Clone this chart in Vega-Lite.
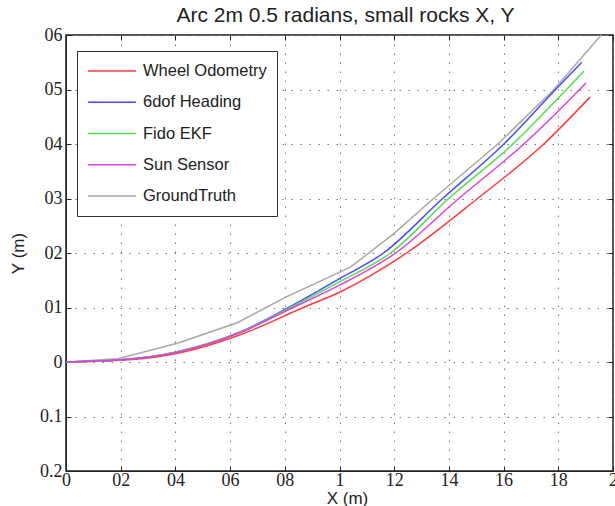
{
  "$schema": "https://vega.github.io/schema/vega-lite/v6.json",
  "width": 547,
  "height": 436,
  "autosize": {"type": "none"},
  "padding": {"left": 66, "top": 35, "right": 2, "bottom": 35},
  "background": "white",
  "title": {"text": "Arc 2m 0.5 radians, small rocks X, Y", "font": "Liberation Sans", "fontSize": 21, "fontWeight": "normal", "color": "#222", "offset": 0, "anchor": "middle", "dx": 6},
  "config": {
    "view": {"stroke": "#222", "strokeWidth": 1.5},
    "axis": {"labelFont": "Liberation Sans Narrow", "labelFontSize": 18, "labelColor": "#222", "titleFont": "Liberation Sans", "titleFontSize": 17, "titleFontWeight": "normal", "titleColor": "#222", "tickColor": "#222", "domainColor": "#222", "gridColor": "#777", "gridDash": [1.5, 7.5], "gridWidth": 1, "gridOpacity": 1}
  },
  "data": {"values": [
    {"s": "Wheel Odometry", "i": 0, "x": 0, "y": 0},
    {"s": "Wheel Odometry", "i": 1, "x": 0.2, "y": 0.003},
    {"s": "Wheel Odometry", "i": 2, "x": 0.4, "y": 0.015},
    {"s": "Wheel Odometry", "i": 3, "x": 0.637, "y": 0.05},
    {"s": "Wheel Odometry", "i": 4, "x": 0.868, "y": 0.1},
    {"s": "Wheel Odometry", "i": 5, "x": 1.0, "y": 0.128},
    {"s": "Wheel Odometry", "i": 6, "x": 1.245, "y": 0.2},
    {"s": "Wheel Odometry", "i": 7, "x": 1.505, "y": 0.3},
    {"s": "Wheel Odometry", "i": 8, "x": 1.747, "y": 0.4},
    {"s": "Wheel Odometry", "i": 9, "x": 1.916, "y": 0.486},
    {"s": "6dof Heading", "i": 0, "x": 0, "y": 0},
    {"s": "6dof Heading", "i": 1, "x": 0.2, "y": 0.004},
    {"s": "6dof Heading", "i": 2, "x": 0.4, "y": 0.018},
    {"s": "6dof Heading", "i": 3, "x": 0.637, "y": 0.055},
    {"s": "6dof Heading", "i": 4, "x": 0.813, "y": 0.1},
    {"s": "6dof Heading", "i": 5, "x": 1.0, "y": 0.153},
    {"s": "6dof Heading", "i": 6, "x": 1.161, "y": 0.2},
    {"s": "6dof Heading", "i": 7, "x": 1.377, "y": 0.3},
    {"s": "6dof Heading", "i": 8, "x": 1.601, "y": 0.4},
    {"s": "6dof Heading", "i": 9, "x": 1.79, "y": 0.5},
    {"s": "6dof Heading", "i": 10, "x": 1.886, "y": 0.55},
    {"s": "Fido EKF", "i": 0, "x": 0, "y": 0},
    {"s": "Fido EKF", "i": 1, "x": 0.2, "y": 0.004},
    {"s": "Fido EKF", "i": 2, "x": 0.4, "y": 0.018},
    {"s": "Fido EKF", "i": 3, "x": 0.637, "y": 0.055},
    {"s": "Fido EKF", "i": 4, "x": 0.82, "y": 0.1},
    {"s": "Fido EKF", "i": 5, "x": 1.0, "y": 0.147},
    {"s": "Fido EKF", "i": 6, "x": 1.187, "y": 0.2},
    {"s": "Fido EKF", "i": 7, "x": 1.399, "y": 0.3},
    {"s": "Fido EKF", "i": 8, "x": 1.634, "y": 0.4},
    {"s": "Fido EKF", "i": 9, "x": 1.83, "y": 0.5},
    {"s": "Fido EKF", "i": 10, "x": 1.894, "y": 0.534},
    {"s": "Sun Sensor", "i": 0, "x": 0, "y": 0},
    {"s": "Sun Sensor", "i": 1, "x": 0.2, "y": 0.004},
    {"s": "Sun Sensor", "i": 2, "x": 0.4, "y": 0.017},
    {"s": "Sun Sensor", "i": 3, "x": 0.637, "y": 0.054},
    {"s": "Sun Sensor", "i": 4, "x": 0.83, "y": 0.1},
    {"s": "Sun Sensor", "i": 5, "x": 1.0, "y": 0.141},
    {"s": "Sun Sensor", "i": 6, "x": 1.205, "y": 0.2},
    {"s": "Sun Sensor", "i": 7, "x": 1.436, "y": 0.3},
    {"s": "Sun Sensor", "i": 8, "x": 1.674, "y": 0.4},
    {"s": "Sun Sensor", "i": 9, "x": 1.878, "y": 0.5},
    {"s": "Sun Sensor", "i": 10, "x": 1.901, "y": 0.512},
    {"s": "GroundTruth", "i": 0, "x": 0, "y": 0},
    {"s": "GroundTruth", "i": 1, "x": 0.19, "y": 0.006},
    {"s": "GroundTruth", "i": 2, "x": 0.41, "y": 0.035},
    {"s": "GroundTruth", "i": 3, "x": 0.626, "y": 0.072},
    {"s": "GroundTruth", "i": 4, "x": 0.8, "y": 0.118},
    {"s": "GroundTruth", "i": 5, "x": 1.04, "y": 0.174},
    {"s": "GroundTruth", "i": 6, "x": 1.2, "y": 0.236},
    {"s": "GroundTruth", "i": 7, "x": 1.344, "y": 0.3},
    {"s": "GroundTruth", "i": 8, "x": 1.579, "y": 0.4},
    {"s": "GroundTruth", "i": 9, "x": 1.784, "y": 0.5},
    {"s": "GroundTruth", "i": 10, "x": 1.957, "y": 0.6}
  ]},
  "layer": [
    {
      "transform": [{"filter": "datum.s === 'GroundTruth'"}],
      "mark": {"type": "line", "strokeWidth": 1.5, "clip": true},
      "encoding": {
        "x": {"field": "x", "type": "quantitative", "scale": {"domain": [0, 2], "nice": false, "zero": false},
          "axis": {"orient": "bottom", "values": [0, 0.2, 0.4, 0.6, 0.8, 1, 1.2, 1.4, 1.6, 1.8, 2], "labelExpr": "datum.value == 0 ? '0' : (datum.value == 1 ? '1' : (datum.value == 2 ? '2' : replace(format(datum.value, '.1f'), '.', '')))", "labelFlush": false, "tickSize": -5, "labelPadding": 5, "grid": true, "title": "X (m)", "titleX": 281, "titleY": 27, "titleBaseline": "middle"}},
        "y": {"field": "y", "type": "quantitative", "scale": {"domain": [-0.2, 0.6], "nice": false, "zero": false},
          "axis": {"orient": "left", "values": [-0.2, -0.1, 0, 0.1, 0.2, 0.3, 0.4, 0.5, 0.6], "labelExpr": "abs(datum.value) < 0.0001 ? '0' : (datum.value < 0 ? format(-datum.value, '.1f') : replace(format(datum.value, '.1f'), '.', ''))", "labelFlush": false, "tickSize": -5, "labelPadding": 9, "grid": true, "title": "Y (m)", "titleX": -48, "titleBaseline": "middle"}},
        "color": {"field": "s", "type": "nominal",
          "scale": {"domain": ["Wheel Odometry", "6dof Heading", "Fido EKF", "Sun Sensor", "GroundTruth"], "range": ["#ff3b3b", "#4b4bff", "#4fe04f", "#e040e0", "#a8a8a8"]},
          "legend": {"orient": "none", "legendX": 11, "legendY": 16, "title": null, "symbolType": "stroke", "symbolSize": 2304, "symbolStrokeWidth": 1.5, "labelFont": "Liberation Sans", "labelFontSize": 16.5, "labelColor": "#222", "labelOffset": 6, "clipHeight": 20, "rowPadding": 11.25, "padding": 10, "strokeColor": "#333", "fillColor": "white", "labelLimit": 300}},
        "order": {"field": "i", "type": "quantitative"}
      }
    },
    {
      "transform": [{"filter": "datum.s !== 'GroundTruth'"}],
      "mark": {"type": "line", "strokeWidth": 1.5, "clip": true, "interpolate": "monotone"},
      "encoding": {
        "x": {"field": "x", "type": "quantitative", "axis": null},
        "y": {"field": "y", "type": "quantitative", "axis": null},
        "color": {"field": "s", "type": "nominal"},
        "order": {"field": "i", "type": "quantitative"}
      }
    },
    {
      "mark": {"type": "point", "opacity": 0},
      "encoding": {
        "x": {"field": "x", "type": "quantitative", "axis": {"orient": "top", "values": [0, 0.2, 0.4, 0.6, 0.8, 1, 1.2, 1.4, 1.6, 1.8, 2], "labels": false, "domain": false, "grid": false, "tickSize": -5, "title": null}},
        "y": {"field": "y", "type": "quantitative", "axis": {"orient": "right", "values": [-0.2, -0.1, 0, 0.1, 0.2, 0.3, 0.4, 0.5, 0.6], "labels": false, "domain": false, "grid": false, "tickSize": -5, "title": null}}
      }
    }
  ],
  "resolve": {"axis": {"x": "independent", "y": "independent"}}
}
